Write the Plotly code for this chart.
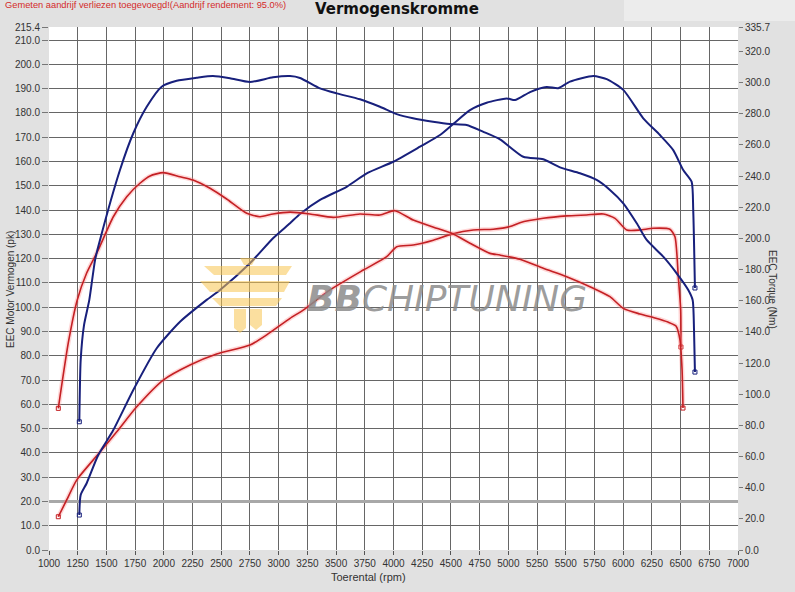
import plotly.graph_objects as go

# ---------------- data ----------------
tuned_torque_rpm = [1264, 1276, 1305, 1351, 1401, 1444, 1618, 1734, 1851, 1981, 2112, 2286, 2428, 2576,
                    2750, 2951, 3099, 3186, 3360, 3505, 3708, 3882, 4028, 4170, 4344, 4492, 4637, 4779,
                    4927, 5130, 5304, 5450, 5624, 5769, 5885, 6001, 6118, 6205, 6349, 6466, 6567, 6605,
                    6617, 6625]
tuned_torque_nm = [82.3, 122.0, 144.4, 160.5, 186.1, 199.0, 243.9, 267.5, 284.5, 297.4, 301.2, 303.1, 304.2,
                   302.8, 300.4, 303.4, 304.2, 303.0, 296.3, 293.1, 289.3, 284.5, 279.8, 277.1, 274.9,
                   273.4, 272.8, 268.5, 263.6, 252.4, 250.8, 245.6, 241.8, 237.5, 231.1, 222.5, 209.7,
                   199.0, 188.3, 177.6, 166.9, 160.5, 141.2, 114.2]

tuned_power_rpm = [1264, 1276, 1328, 1429, 1560, 1734, 1938, 2141, 2373, 2489, 2750, 2953, 3099, 3186,
                   3360, 3592, 3767, 3998, 4231, 4405, 4521, 4666, 4811, 4986, 5058, 5189, 5334, 5435,
                   5537, 5740, 5857, 6001, 6175, 6320, 6436, 6523, 6596, 6610, 6625]
tuned_power_pk = [14.4, 22.7, 27.5, 39.1, 49.4, 65.9, 83.1, 94.0, 103.0, 107.1, 118.1, 128.5, 134.6, 138.4,
                  144.2, 149.6, 155.1, 159.9, 166.1, 170.9, 175.5, 181.2, 184.2, 186.0, 185.3, 188.6,
                  190.7, 190.2, 192.9, 195.2, 193.9, 189.5, 177.8, 170.9, 164.7, 156.5, 151.7, 140.2, 107.9]

stock_torque_rpm = [1081, 1168, 1246, 1328, 1429, 1560, 1677, 1792, 1880, 1995, 2141, 2254, 2402, 2547,
                    2722, 2837, 2951, 3099, 3273, 3476, 3708, 3882, 4013, 4172, 4376, 4507, 4666, 4840,
                    4927, 5101, 5304, 5508, 5740, 5885, 6001, 6146, 6277, 6390, 6460, 6495, 6513, 6521]
stock_torque_nm = [90.9, 132.9, 160.5, 177.8, 192.6, 213.9, 226.8, 235.4, 240.1, 242.2, 239.6, 237.5, 232.2,
                   225.3, 216.1, 213.9, 215.7, 216.9, 215.7, 213.5, 215.7, 215.0, 217.8, 211.8, 206.5,
                   203.3, 196.9, 190.4, 189.3, 186.6, 180.8, 175.4, 168.0, 162.6, 155.1, 151.5, 148.9,
                   146.3, 143.8, 134.8, 115.5, 91.1]

stock_power_rpm = [1081, 1154, 1241, 1429, 1590, 1764, 1995, 2228, 2460, 2750, 2896, 3099, 3214, 3447,
                   3737, 3941, 4028, 4172, 4347, 4507, 4695, 4869, 5014, 5101, 5304, 5508, 5682, 5827,
                   5929, 6031, 6146, 6262, 6407, 6451, 6480, 6501, 6503]
stock_power_pk = [13.7, 20.6, 28.8, 39.5, 48.7, 59.0, 70.0, 76.2, 80.7, 84.4, 88.6, 95.4, 98.8, 107.1,
                  115.3, 120.8, 124.9, 125.6, 127.6, 130.1, 131.8, 132.1, 133.2, 134.8, 136.6, 137.6,
                  138.0, 138.4, 136.6, 131.8, 131.8, 132.5, 132.1, 129.0, 112.6, 98.8, 83.6]

left_ticks = [0, 10, 20, 30, 40, 50, 60, 70, 80, 90, 100, 110, 120, 130, 140, 150, 160, 170, 180, 190,
              200, 210, 215.4]
right_ticks = [0, 20, 40, 60, 80, 100, 120, 140, 160, 180, 200, 220, 240, 260, 280, 300, 320, 335.7]
x_ticks = list(range(1000, 7001, 250))
reference_line_pk = 20

title_text = "Vermogenskromme"
note_text = "Gemeten aandrijf verliezen toegevoegd!(Aandrijf rendement: 95.0%)"

# ---------------- styling ----------------
BLUE = "#18207c"
RED = "#c42024"
GLOW = "rgba(255,140,140,0.35)"
FONT = "Liberation Sans"
L, T, W, H = 49, 27, 689, 523   # plot area in pixels


def px(xp):
    return (xp - L) / W


def py(yp):
    return (T + H - yp) / H


fig = go.Figure()


def add_curve(x, y, color, axis, glow=False):
    if glow:
        fig.add_trace(go.Scatter(x=x, y=y, mode="lines", yaxis=axis, hoverinfo="skip",
                                 line=dict(color=GLOW, width=4.5, shape="spline", smoothing=0.6),
                                 showlegend=False))
    fig.add_trace(go.Scatter(x=x, y=y, mode="lines", yaxis=axis,
                             line=dict(color=color, width=1.6 if glow else 2, shape="spline", smoothing=0.6),
                             showlegend=False))
    fig.add_trace(go.Scatter(x=[x[0], x[-1]], y=[y[0], y[-1]], mode="markers", yaxis=axis,
                             marker=dict(symbol="square-open", size=4, color=color, line=dict(width=1)),
                             showlegend=False, hoverinfo="skip"))


# reference line at 20 pk
fig.add_trace(go.Scatter(x=[x_ticks[0], x_ticks[-1]], y=[reference_line_pk, reference_line_pk],
                         mode="lines", line=dict(color="#a8a8a8", width=3), showlegend=False,
                         hoverinfo="skip"))

add_curve(stock_power_rpm, stock_power_pk, RED, "y", glow=True)
add_curve(stock_torque_rpm, stock_torque_nm, RED, "y2", glow=True)
add_curve(tuned_power_rpm, tuned_power_pk, BLUE, "y")
add_curve(tuned_torque_rpm, tuned_torque_nm, BLUE, "y2")

tickfont = dict(family=FONT, size=10, color="#333333")

fig.update_layout(
    width=795, height=592,
    margin=dict(l=L, r=795 - L - W, t=T, b=592 - T - H),
    paper_bgcolor="#e1e1e1",
    plot_bgcolor="#ffffff",
    font=dict(family=FONT),
    xaxis=dict(range=[1000, 7000], tickvals=x_ticks, ticktext=[str(v) for v in x_ticks],
               showgrid=True, gridcolor="#666666", gridwidth=1, zeroline=False,
               ticks="outside", ticklen=4, tickcolor="#555", tickfont=tickfont, showline=False),
    yaxis=dict(range=[0, 215.4], tickvals=left_ticks, ticktext=[f"{v:.1f}" for v in left_ticks],
               showgrid=True, gridcolor="#666666", gridwidth=1, zeroline=False,
               ticks="outside", ticklen=6, tickcolor="#777", tickfont=tickfont, showline=False),
    yaxis2=dict(range=[0, 335.7], tickvals=right_ticks, ticktext=[f"{v:.1f}" for v in right_ticks],
                overlaying="y", side="right", showgrid=False, zeroline=False,
                ticks="outside", ticklen=4, tickcolor="#777", tickfont=tickfont, showline=False),
)

# decorative elements: light box top-right and gold watermark emblem
gold = "rgba(247,196,80,0.55)"
shapes = [
    dict(type="rect", xref="paper", yref="paper", x0=px(624), x1=px(795), y0=py(21), y1=py(0),
         fillcolor="#ececec", line=dict(width=0), layer="below"),
]
emblem_paths = [
    [(204, 266), (292, 266), (286, 275), (214, 275)],
    [(200, 281), (290, 281), (284, 292), (210, 292)],
    [(212, 298), (282, 298), (276, 306), (220, 306)],
    [(234, 309), (246, 309), (246, 328), (240, 333), (234, 328)],
    [(250, 309), (262, 309), (262, 325), (256, 330), (250, 325)],
    [(240, 258), (256, 258), (252, 265), (244, 265)],
]
for pts in emblem_paths:
    d = "M " + " L ".join(f"{px(a):.5f},{py(b):.5f}" for a, b in pts) + " Z"
    shapes.append(dict(type="path", xref="paper", yref="paper", path=d, fillcolor=gold,
                       line=dict(width=0), layer="above"))
fig.update_layout(shapes=shapes)

fig.update_layout(annotations=[
    dict(text=f"<b>{title_text}</b>", xref="paper", yref="paper", x=px(397), y=py(9),
         showarrow=False, font=dict(family="DejaVu Sans", size=15, color="#111"), xanchor="center", yanchor="middle"),
    dict(text=note_text, xref="paper", yref="paper", x=px(3), y=py(5),
         showarrow=False, font=dict(family=FONT, size=9.3, color="#d42a2a"), xanchor="left", yanchor="middle"),
    dict(text="EEC Motor Vermogen (pk)", xref="paper", yref="paper", x=px(10), y=py(290),
         textangle=-90, showarrow=False, font=dict(family=FONT, size=10, color="#333"),
         xanchor="center", yanchor="middle"),
    dict(text="EEC Torque (Nm)", xref="paper", yref="paper", x=px(773), y=py(290),
         textangle=90, showarrow=False, font=dict(family=FONT, size=10, color="#333"),
         xanchor="center", yanchor="middle"),
    dict(text="Toerental (rpm)", xref="paper", yref="paper", x=px(368), y=py(577),
         showarrow=False, font=dict(family=FONT, size=11, color="#333"), xanchor="center", yanchor="middle"),
    dict(text="<b><i>BB</i></b><i>CHIPTUNING</i>", xref="paper", yref="paper", x=px(447),
         y=py(298), showarrow=False, font=dict(family="DejaVu Sans", size=36, color="rgba(140,140,140,0.85)"),
         xanchor="center", yanchor="middle"),
])

fig.write_html("out.html", config={"displayModeBar": False},
               post_script="document.body.style.margin='0';document.body.style.overflow='hidden';")
